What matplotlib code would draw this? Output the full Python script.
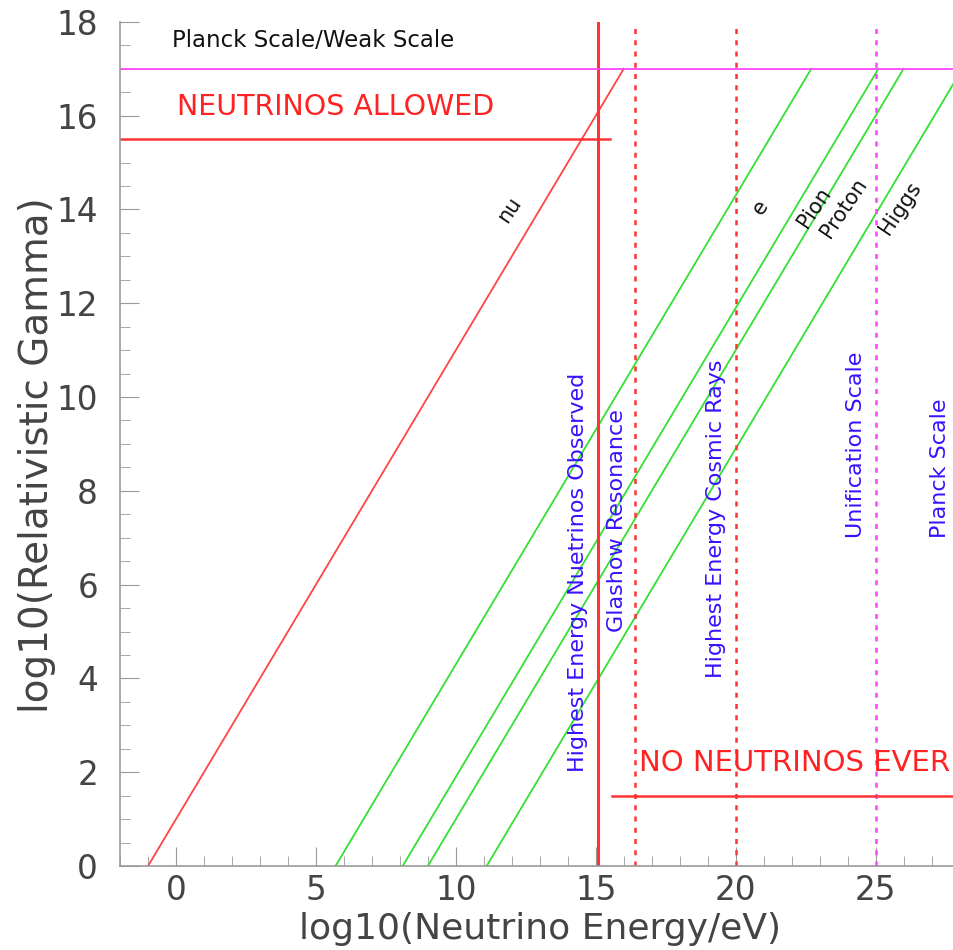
import numpy as np
import matplotlib
matplotlib.use("Agg")
import matplotlib.pyplot as plt
from matplotlib.ticker import MultipleLocator

# particle lines: log10(mass/eV), gamma from 0 to 17
particles = ["nu", "e", "Pion", "Proton", "Higgs"]
log_mass = [-1.0, 5.7, 8.1, 9.0, 11.1]
gamma_range = [0, 17]
label_pos = [(11.93, 14.0), (20.9, 14.05), (22.8, 14.05), (23.86, 14.03), (25.86, 14.03)]

# vertical energy markers
v_x = [15.07, 16.4, 20.0, 25.0]
v_style = ["-", "--", "--", "--"]
v_color = ["#ff3333", "#ff3333", "#ff3333", "#ff44ff"]

# blue annotations
ann_text = ["Highest Energy Nuetrinos Observed", "Glashow Resonance",
            "Highest Energy Cosmic Rays", "Unification Scale", "Planck Scale"]
ann_x = [14.36, 15.75, 19.29, 24.3, 27.3]
ann_y = [2.0, 5.0, 4.0, 7.0, 7.0]

planck_weak = 17.0
allowed_y, allowed_xmax = 15.5, 15.5
never_y, never_xmin = 1.5, 15.57

fig = plt.figure(figsize=(9.54, 9.5), dpi=100)
ax = fig.add_axes([0.1258, 0.0884, 1.0 - 0.1258, 0.977 - 0.0884])
ax.set_xlim(-2, 27.8)
ax.set_ylim(0, 18)

for name, m in zip(particles, log_mass):
    col = "#ff4444" if name == "nu" else "#33e033"
    xs = [m + g for g in gamma_range]
    ax.plot(xs, gamma_range, color=col, lw=1.3)

for name, (lx, ly) in zip(particles, label_pos):
    ax.text(lx, ly, name, rotation=56, ha="center", va="center", fontsize=15,
            color="#111111", rotation_mode="anchor")

for x, ls, c in zip(v_x, v_style, v_color):
    if ls == "-":
        ax.axvline(x, color=c, lw=2.2)
    else:
        ax.axvline(x, color=c, lw=1.8, ls=(0, (2, 2.5)), ymax=0.995)

ax.axhline(planck_weak, color="#ff44ff", lw=1.3)
ax.plot([-2, allowed_xmax], [allowed_y, allowed_y], color="#ff3333", lw=1.8)
ax.plot([never_xmin, 27.8], [never_y, never_y], color="#ff3333", lw=1.8)

for t, x, y in zip(ann_text, ann_x, ann_y):
    ax.text(x, y, t, rotation=90, ha="center", va="bottom", fontsize=16, color="#3a10ff")

ax.text(-0.15, 17.6, "Planck Scale/Weak Scale", fontsize=16.5, color="#111111", va="center")
ax.text(0.05, 16.18, "NEUTRINOS ALLOWED", fontsize=20.5, color="#ff2222", va="center")
ax.text(16.55, 2.2, "NO NEUTRINOS EVER", fontsize=21, color="#ff2222", va="center")

for s in ["top", "right"]:
    ax.spines[s].set_visible(False)
for s in ["left", "bottom"]:
    ax.spines[s].set_color("#999999")
    ax.spines[s].set_linewidth(1.2)

ax.xaxis.set_major_locator(MultipleLocator(5))
ax.xaxis.set_minor_locator(MultipleLocator(1))
ax.yaxis.set_major_locator(MultipleLocator(2))
ax.yaxis.set_minor_locator(MultipleLocator(0.5))
ax.tick_params(which="both", direction="in", color="#999999")
ax.tick_params(which="major", length=14, labelsize=23.5, labelcolor="#444444")
ax.tick_params(which="minor", length=7)
ax.tick_params(axis="y", which="major", pad=15.8)
ax.tick_params(axis="x", which="major", pad=6)

ax.set_xlabel("log10(Neutrino Energy/eV)", fontsize=26, color="#444444")
ax.set_ylabel("log10(Relativistic Gamma)", fontsize=28, color="#444444")
ax.xaxis.set_label_coords(0.504, -0.0545)
ax.yaxis.set_label_coords(-0.077, 0.487)

fig.savefig("out.png", dpi=100)
